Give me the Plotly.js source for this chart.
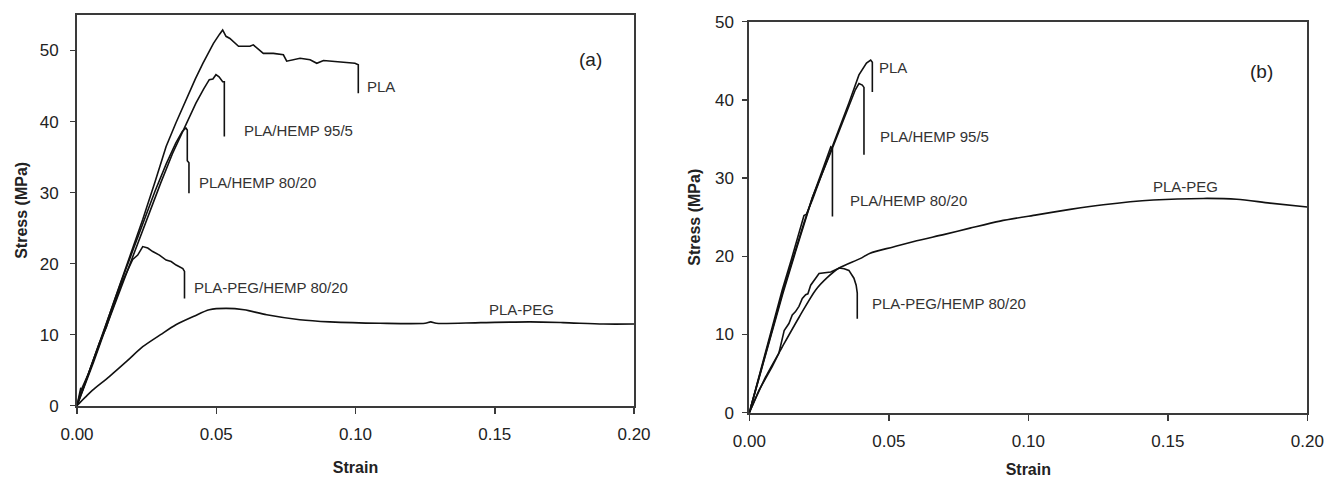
<!DOCTYPE html>
<html>
<head>
<meta charset="utf-8">
<script src="https://cdn.plot.ly/plotly-3.0.1.min.js"></script>
<style>html,body{margin:0;padding:0;background:#fff}#chart{width:1327px;height:478px}</style>
</head>
<body>
<div id="chart"></div>
<script>
// ---------- Panel (a) ----------
const a_PLA_strain = [0, 0.0013, 0.002, 0.005, 0.008, 0.0134, 0.018, 0.0236, 0.028, 0.032, 0.0355, 0.0386, 0.0425, 0.0452, 0.049, 0.0512, 0.0523, 0.0535, 0.0549, 0.058, 0.0621, 0.0633, 0.0669, 0.0705, 0.0741, 0.0753, 0.0801, 0.0837, 0.0861, 0.0885, 0.0921, 0.096, 0.0998, 0.101, 0.101];
const a_PLA_stress = [0, 2.4, 2.2, 5.4, 8.6, 14.8, 20, 26.2, 31.5, 36.5, 39.8, 42.6, 46.0, 48.2, 51.0, 52.3, 52.9, 52.0, 51.7, 50.6, 50.6, 50.8, 49.6, 49.6, 49.4, 48.5, 48.9, 48.7, 48.2, 48.6, 48.5, 48.3, 48.2, 48.0, 44.0];

const a_H95_strain = [0, 0.003, 0.006, 0.01, 0.015, 0.02, 0.025, 0.03, 0.0343, 0.0391, 0.0427, 0.0455, 0.0475, 0.0488, 0.0499, 0.051, 0.0523, 0.0529, 0.0529];
const a_H95_stress = [0, 3.0, 6.2, 10.6, 15.8, 21, 26.2, 31.3, 35.5, 39.6, 42.6, 44.6, 45.9, 46.0, 46.6, 46.3, 45.6, 45.6, 37.9];

const a_H80_strain = [0, 0.004, 0.008, 0.012, 0.016, 0.02, 0.024, 0.028, 0.032, 0.0355, 0.0378, 0.0391, 0.0396, 0.0396, 0.0402, 0.0402];
const a_H80_stress = [0, 4.4, 9, 13.4, 17.6, 21.8, 26, 30.2, 34.0, 37.0, 38.6, 39.1, 38.8, 34.5, 34.2, 29.9];

const a_PEGH_strain = [0, 0.0015, 0.004, 0.008, 0.0105, 0.012, 0.016, 0.0185, 0.02, 0.0218, 0.0236, 0.0254, 0.0272, 0.0296, 0.032, 0.0338, 0.0356, 0.038, 0.0386, 0.0386];
const a_PEGH_stress = [0, 2.2, 4.4, 8.8, 11.0, 12.8, 17.2, 19.4, 20.6, 21.2, 22.4, 22.2, 21.7, 21.2, 20.5, 20.3, 19.8, 19.3, 18.9, 15.1];

const a_PEG_strain = [0, 0.003, 0.0056, 0.0116, 0.018, 0.0236, 0.03, 0.0355, 0.042, 0.0475, 0.0535, 0.06, 0.0681, 0.08, 0.0908, 0.1088, 0.125, 0.127, 0.129, 0.145, 0.1627, 0.1745, 0.189, 0.2];
const a_PEG_stress = [0, 1.2, 2.2, 4.1, 6.3, 8.3, 10.0, 11.4, 12.6, 13.5, 13.7, 13.5, 12.8, 12.1, 11.8, 11.6, 11.6, 11.8, 11.6, 11.7, 11.8, 11.7, 11.5, 11.5];

// ---------- Panel (b) ----------
const b_PLA_strain = [0, 0.003, 0.0059, 0.009, 0.0118, 0.015, 0.0185, 0.0196, 0.0205, 0.0226, 0.026, 0.0298, 0.033, 0.0357, 0.0393, 0.042, 0.0435, 0.0441, 0.0441];
const b_PLA_stress = [0, 4, 8.0, 12, 15.7, 19.5, 23.6, 25.2, 25.4, 27.2, 30.5, 34.0, 37, 39.6, 43.2, 44.7, 45.1, 44.8, 41.0];

const b_H95_strain = [0, 0.006, 0.012, 0.0196, 0.0226, 0.03, 0.0357, 0.038, 0.0393, 0.0405, 0.0411, 0.0411];
const b_H95_stress = [0, 7.8, 15.5, 24.3, 27.5, 34, 39.3, 41.3, 42.1, 41.9, 41.6, 33.0];

const b_H80_strain = [0, 0.006, 0.012, 0.0165, 0.0196, 0.0226, 0.026, 0.0292, 0.0298, 0.0298];
const b_H80_stress = [0, 7.6, 15.2, 20.5, 24.2, 27.5, 30.8, 34.0, 33.8, 25.1];

const b_PEGH_strain = [0, 0.0035, 0.0082, 0.0106, 0.0125, 0.0142, 0.0154, 0.0165, 0.0178, 0.019, 0.0202, 0.021, 0.022, 0.0238, 0.025, 0.0292, 0.0322, 0.034, 0.0357, 0.0375, 0.0383, 0.0387, 0.0387];
const b_PEGH_stress = [0, 2.9, 5.9, 7.6, 10.5, 11.4, 12.5, 12.9, 13.6, 14.6, 15.1, 15.2, 16.3, 17.2, 17.8, 18.0, 18.5, 18.4, 18.2, 17.2, 16.3, 15.3, 12.0];

const b_PEG_strain = [0, 0.003, 0.0059, 0.0118, 0.018, 0.0238, 0.028, 0.0322, 0.0397, 0.0433, 0.0516, 0.06, 0.07, 0.0791, 0.0899, 0.103, 0.115, 0.1269, 0.1448, 0.1627, 0.1747, 0.1866, 0.2];
const b_PEG_stress = [0, 2.4, 4.6, 8.4, 12.3, 15.7, 17.3, 18.5, 19.7, 20.4, 21.2, 22.0, 22.8, 23.6, 24.5, 25.3, 26.0, 26.6, 27.2, 27.4, 27.3, 26.8, 26.3];

// ---------- Labels ----------
const seriesLabels = ["PLA", "PLA/HEMP 95/5", "PLA/HEMP 80/20", "PLA-PEG/HEMP 80/20", "PLA-PEG"];
const labelPosA = [[0.1034, 44.9], [0.0592, 38.8], [0.0431, 31.4], [0.0413, 16.6], [0.1472, 13.5]];
const labelPosB = [[0.0458, 44.2], [0.0461, 35.3], [0.0354, 27.2], [0.0433, 14.0], [0.144, 28.9]];
const panelTags = ["(a)", "(b)"];
const xTitle = "Strain";
const yTitle = "Stress (MPa)";

const lineStyle = {color: "#111", width: 1.6};
function tr(x, y, name, xa, ya, smooth) {
  const ln = Object.assign({}, lineStyle);
  if (smooth) { ln.shape = "spline"; ln.smoothing = 0.8; }
  return {x: x, y: y, name: name, type: "scatter", mode: "lines", line: ln,
          xaxis: xa, yaxis: ya, showlegend: false, hoverinfo: "skip"};
}
const data = [
  tr(a_PLA_strain, a_PLA_stress, seriesLabels[0], "x", "y"),
  tr(a_H95_strain, a_H95_stress, seriesLabels[1], "x", "y"),
  tr(a_H80_strain, a_H80_stress, seriesLabels[2], "x", "y"),
  tr(a_PEGH_strain, a_PEGH_stress, seriesLabels[3], "x", "y"),
  tr(a_PEG_strain, a_PEG_stress, seriesLabels[4], "x", "y", true),
  tr(b_PLA_strain, b_PLA_stress, seriesLabels[0], "x2", "y2"),
  tr(b_H95_strain, b_H95_stress, seriesLabels[1], "x2", "y2"),
  tr(b_H80_strain, b_H80_stress, seriesLabels[2], "x2", "y2"),
  tr(b_PEGH_strain, b_PEGH_stress, seriesLabels[3], "x2", "y2"),
  tr(b_PEG_strain, b_PEG_stress, seriesLabels[4], "x2", "y2", true)
];

const FONT = "Liberation Sans, Arial, sans-serif";
const axisCommon = {
  showline: true, linewidth: 2, linecolor: "#3a3a3a", mirror: true,
  ticks: "outside", tickwidth: 1.5, tickcolor: "#3a3a3a",
  showgrid: false, zeroline: false,
  tickfont: {family: FONT, size: 17, color: "#222"}
};
function xax(domain, anchor, standoff) {
  return Object.assign({}, axisCommon, {
    domain: domain, anchor: anchor, range: [0, 0.2], dtick: 0.05, tick0: 0,
    tickformat: ".2f", ticklen: 6, ticklabelstandoff: 6,
    title: {text: xTitle, font: {family: FONT, size: 16, weight: "bold", color: "#222"}, standoff: standoff}
  });
}
function yax(domain, anchor, rmax, lstand, standoff) {
  return Object.assign({}, axisCommon, {
    domain: domain, anchor: anchor, range: [0, rmax], dtick: 10, tick0: 0,
    ticklen: 5, ticklabelstandoff: lstand,
    title: {text: yTitle, font: {family: FONT, size: 16, weight: "bold", color: "#222"}, standoff: standoff}
  });
}

const annotations = [];
function addLabels(pos, xr, yr, tag, tagPos) {
  pos.forEach((p, i) => annotations.push({
    x: p[0], y: p[1], xref: xr, yref: yr, text: seriesLabels[i], showarrow: false,
    xanchor: "left", yanchor: "middle", font: {family: FONT, size: 15, color: "#333"}
  }));
  annotations.push({x: tagPos[0], y: tagPos[1], xref: xr, yref: yr, text: tag, showarrow: false,
    xanchor: "left", yanchor: "middle", font: {family: FONT, size: 19, color: "#222"}});
}
addLabels(labelPosA, "x", "y", panelTags[0], [0.1795, 48.7]);
addLabels(labelPosB, "x2", "y2", panelTags[1], [0.1788, 43.6]);

const layout = {
  width: 1327, height: 478,
  margin: {l: 0, r: 0, t: 0, b: 0},
  paper_bgcolor: "#fff", plot_bgcolor: "#fff",
  showlegend: false,
  xaxis: xax([77/1327, 634/1327], "y", 19),
  yaxis: yax([72.3/478, 463/478], "x", 55, 8, 8),
  xaxis2: xax([749.3/1327, 1307.3/1327], "y2", 15),
  yaxis2: yax([65.3/478, 456.3/478], "x2", 50, 5, 10),
  annotations: annotations
};

Plotly.newPlot("chart", data, layout, {displayModeBar: false, staticPlot: true});
</script>
</body>
</html>
